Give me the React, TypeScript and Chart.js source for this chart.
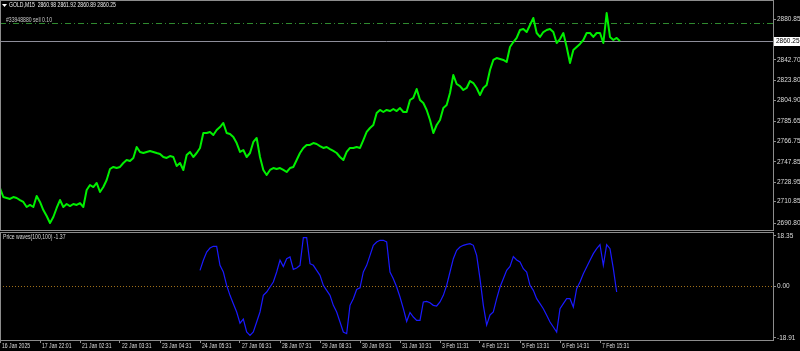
import React, { useEffect, useRef } from 'react';
import { Chart, registerables } from 'chart.js';

Chart.register(...registerables);

const FONT_FAMILY = "'Liberation Sans', Arial, sans-serif";

const headerText = 'GOLD,M15  2860.98 2861.92 2860.89 2860.25';
const orderText = '#33948880 sell 0.10';
const indicatorText = 'Price waves(100,100) -1.37';

const timeLabels = [
  '16 Jan 2025', '17 Jan 22:01', '21 Jan 02:31', '22 Jan 03:31', '23 Jan 04:31',
  '24 Jan 05:31', '27 Jan 06:31', '28 Jan 07:31', '29 Jan 08:31', '30 Jan 09:31',
  '31 Jan 10:31', '3 Feb 11:31', '4 Feb 12:31', '5 Feb 13:31', '6 Feb 14:31', '7 Feb 15:31',
];
const labelStep = 12; // samples between time labels
const xMax = 231.9; // visible samples across the plot

const priceTicks = [2880.85, 2842.7, 2823.8, 2804.9, 2785.65, 2766.75, 2747.85, 2728.95, 2710.85, 2690.8];
const priceMin = 2684.28;
const priceMax = 2897.62;
const currentPrice = 2860.25;
const orderPrice = 2876.9;

const priceValues = [
  2723.4, 2715.0, 2714.1, 2713.2, 2715.0, 2714.1, 2712.2, 2710.4, 2705.7, 2707.6,
  2705.7, 2716.0, 2710.4, 2702.9, 2697.3, 2690.8, 2696.4, 2704.8, 2712.2, 2705.7,
  2708.5, 2706.6, 2708.5, 2707.6, 2709.4, 2705.7, 2721.5, 2726.2, 2724.3, 2728.1,
  2719.7, 2724.3, 2730.9, 2741.1, 2743.0, 2742.0, 2743.0, 2746.7, 2749.5, 2748.6,
  2751.4, 2761.6, 2757.0, 2756.0, 2757.0, 2757.9, 2757.0, 2756.0, 2755.1, 2752.3,
  2751.4, 2753.2, 2752.3, 2743.9, 2746.7, 2740.2, 2754.2, 2757.0, 2752.3, 2756.0,
  2760.7, 2774.6, 2774.6, 2775.6, 2772.8, 2777.4, 2780.2, 2784.0, 2774.6, 2773.7,
  2770.9, 2765.3, 2757.0, 2758.8, 2752.3, 2756.0, 2766.3, 2770.0, 2752.3, 2740.2,
  2735.5, 2740.2, 2742.0, 2741.1, 2742.0, 2740.2, 2738.3, 2742.0, 2743.0, 2749.5,
  2756.0, 2760.7, 2763.5, 2763.5, 2765.3, 2764.4, 2762.5, 2760.7, 2761.6, 2759.7,
  2757.9, 2756.0, 2752.3, 2749.5, 2757.0, 2760.7, 2760.7, 2761.6, 2760.7, 2768.1,
  2775.6, 2779.3, 2782.1, 2793.3, 2796.1, 2794.2, 2796.1, 2795.1, 2797.0, 2795.1,
  2797.9, 2794.2, 2794.2, 2805.4, 2807.3, 2815.6, 2805.4, 2802.6, 2796.1, 2786.8,
  2774.6, 2782.1, 2786.8, 2797.9, 2800.7, 2811.9, 2828.7, 2820.3, 2818.4, 2814.7,
  2816.6, 2823.1, 2821.2, 2816.6, 2810.0, 2816.6, 2819.4, 2833.3, 2842.7, 2844.5,
  2843.6, 2842.7, 2840.8, 2854.8, 2859.4, 2863.2, 2870.6, 2871.5, 2868.7, 2875.3,
  2881.8, 2867.8, 2864.1, 2868.7, 2870.6, 2871.5, 2868.7, 2858.5, 2862.2, 2867.8,
  2854.8, 2839.9, 2852.0, 2854.8, 2857.6, 2861.3, 2867.8, 2867.8, 2864.1, 2867.8,
  2867.8, 2858.5, 2886.4, 2864.1, 2861.3, 2863.2, 2860.25,
];

const waveTicks = [18.35, 0, -18.91];
const waveMin = -19.65;
const waveMax = 19.43;
const waveStart = 60;
const waveValues = [
  5.8, 9.45, 12.49, 13.95, 14.56, 14.56, 7.62, 5.19, 0.32, -3.34,
  -6.38, -9.42, -13.5, -12.0, -16.73, -17.95, -16.73, -13.08, -9.42, -3.34,
  -2.12, -0.29, 1.53, 5.19, 9.5, 7.2, 10.06, 10.67, 6.16, 6.65,
  7.62, 17.73, 17.73, 8.23, 7.62, 5.8, 3.97, 0.32, -1.51, -3.34,
  -6.99, -9.42, -13.08, -16.73, -17.34, -6.99, -4.55, -1.2, -0.6, 5.19,
  7.6, 11.28, 14.93, 16.15, 16.76, 16.76, 16.15, 5.19, 2.75, -0.29,
  -3.95, -8.21, -12.9, -9.6, -11.25, -12.5, -12.47, -5.77, -5.53, -6.02,
  -6.99, -7.23, -5.77, -3.34, 0.32, 5.19, 10.06, 13.1, 14.32, 14.93,
  15.29, 15.54, 14.93, 11.28, 2.75, -6.99, -14.2, -10.5, -9.42, -4.55,
  -0.29, 2.75, 5.8, 7.2, 10.8, 9.6, 8.84, 6.41, 5.19, 0.32,
  -1.51, -4.55, -6.38, -8.21, -10.64, -13.08, -14.9, -16.73, -8.21, -6.38,
  -4.55, -4.55, -7.6, -0.9, 1.53, 4.58, 7.01, 9.45, 11.88, 13.71,
  15.17, 7.62, 15.17, 13.71, 6.41, -2.12,
];

const AXIS_COLOR = '#8c8c8c';
const TEXT_COLOR = '#dcdcdc';
const FONT_SIZE = 6.5;
const TEXT_SIZE = 7;
const TEXT_SQUEEZE = 0.73;

function drawSqueezed(ctx: CanvasRenderingContext2D, text: string, x: number, y: number, color: string) {
  ctx.save();
  ctx.translate(x, y);
  ctx.scale(TEXT_SQUEEZE, 1);
  ctx.font = `${TEXT_SIZE}px ${FONT_FAMILY}`;
  ctx.fillStyle = color;
  ctx.textAlign = 'left';
  ctx.textBaseline = 'middle';
  ctx.fillText(text, 0, 0);
  ctx.restore();
}

export default function App() {
  const mainRef = useRef<HTMLCanvasElement | null>(null);
  const subRef = useRef<HTMLCanvasElement | null>(null);

  useEffect(() => {
    if (!mainRef.current || !subRef.current) return;

    const mainPlugin = {
      id: 'mainDecor',
      beforeDraw(chart: any) {
        const { ctx, width, height } = chart;
        ctx.save();
        ctx.fillStyle = '#000';
        ctx.fillRect(0, 0, width, height);
        ctx.restore();
      },
      beforeDatasetsDraw(chart: any) {
        const { ctx, chartArea: a, scales } = chart;
        const y = scales.y;
        ctx.save();
        const yp = Math.round(y.getPixelForValue(currentPrice)) + 0.5;
        ctx.strokeStyle = '#8e8e9a';
        ctx.lineWidth = 1;
        ctx.beginPath();
        ctx.moveTo(a.left, yp);
        ctx.lineTo(a.right, yp);
        ctx.stroke();
        const yo = Math.round(y.getPixelForValue(orderPrice)) + 0.5;
        ctx.strokeStyle = '#2f8a2f';
        ctx.setLineDash([6, 3, 1, 3]);
        ctx.beginPath();
        ctx.moveTo(a.left, yo);
        ctx.lineTo(a.right, yo);
        ctx.stroke();
        ctx.restore();
      },
      afterDraw(chart: any) {
        const { ctx, chartArea: a, scales } = chart;
        const y = scales.y;
        ctx.save();
        ctx.strokeStyle = AXIS_COLOR;
        ctx.lineWidth = 1;
        ctx.strokeRect(a.left + 0.5, a.top - 0.5, a.right - a.left, a.bottom - a.top + 1);
        // current price label
        const yp = Math.round(y.getPixelForValue(currentPrice));
        ctx.fillStyle = '#ffffff';
        ctx.fillRect(a.right + 1, yp - 4, 26, 9);
        ctx.fillStyle = '#000000';
        ctx.font = `${FONT_SIZE}px ${FONT_FAMILY}`;
        ctx.textBaseline = 'middle';
        ctx.textAlign = 'left';
        ctx.fillText(currentPrice.toFixed(2), a.right + 3, yp + 0.5);
        // header
        ctx.fillStyle = '#ffffff';
        ctx.beginPath();
        ctx.moveTo(2, 4);
        ctx.lineTo(7, 4);
        ctx.lineTo(4.5, 7);
        ctx.closePath();
        ctx.fill();
        ctx.restore();
        drawSqueezed(ctx, headerText, 9, 5.5, '#ececec');
        drawSqueezed(ctx, orderText, 6, 20.5, '#c8c8c8');
      },
    };

    const subPlugin = {
      id: 'subDecor',
      beforeDraw(chart: any) {
        const { ctx, width, height } = chart;
        ctx.save();
        ctx.fillStyle = '#000';
        ctx.fillRect(0, 0, width, height);
        ctx.restore();
      },
      beforeDatasetsDraw(chart: any) {
        const { ctx, chartArea: a, scales } = chart;
        const y0 = Math.round(scales.y.getPixelForValue(0)) + 0.5;
        ctx.save();
        ctx.strokeStyle = '#a0701a';
        ctx.setLineDash([1, 2]);
        ctx.lineWidth = 1;
        ctx.beginPath();
        ctx.moveTo(a.left, y0);
        ctx.lineTo(a.right, y0);
        ctx.stroke();
        ctx.restore();
      },
      afterDraw(chart: any) {
        const { ctx, chartArea: a, scales } = chart;
        ctx.save();
        ctx.strokeStyle = AXIS_COLOR;
        ctx.lineWidth = 1;
        ctx.strokeRect(a.left + 0.5, a.top - 0.5, a.right - a.left, a.bottom - a.top + 1);
        ctx.restore();
        drawSqueezed(ctx, indicatorText, 3, 5.5, '#d8d8d8');
        // time axis labels, placed at the x scale's tick positions
        const xs = scales.x;
        timeLabels.forEach((label, i) => {
          const px = xs.getPixelForValue(i * labelStep);
          drawSqueezed(ctx, label, px + 2, a.bottom + 6.5, TEXT_COLOR);
        });
      },
    };

    const tickFont = { family: FONT_FAMILY, size: FONT_SIZE };

    const mainChart = new Chart(mainRef.current, {
      type: 'line',
      data: {
        datasets: [
          {
            data: priceValues.map((v, i) => ({ x: i, y: v })),
            borderColor: '#00f000',
            borderWidth: 2,
            pointRadius: 0,
            tension: 0,
            borderJoinStyle: 'round',
          },
        ],
      },
      options: {
        responsive: false,
        animation: false,
        events: [],
        layout: { padding: { top: 1, bottom: 1, left: 0, right: 0 } },
        plugins: { legend: { display: false }, tooltip: { enabled: false } },
        scales: {
          x: { type: 'linear', min: 0, max: xMax, display: false },
          y: {
            type: 'linear',
            position: 'right',
            min: priceMin,
            max: priceMax,
            afterBuildTicks: (s: any) => {
              s.ticks = priceTicks.map((v) => ({ value: v }));
            },
            afterFit: (s: any) => {
              s.width = 27;
              s.paddingTop = 0;
              s.paddingBottom = 0;
            },
            grid: { drawOnChartArea: false, drawTicks: true, tickLength: 3, color: AXIS_COLOR },
            border: { display: false },
            ticks: {
              color: TEXT_COLOR,
              font: tickFont,
              padding: 1,
              autoSkip: false,
              callback: (v: any) => Number(v).toFixed(2),
            },
          },
        },
      },
      plugins: [mainPlugin],
    } as any);

    const subChart = new Chart(subRef.current, {
      type: 'line',
      data: {
        datasets: [
          {
            data: waveValues.map((v, i) => ({ x: waveStart + i, y: v })),
            borderColor: '#1a1aff',
            borderWidth: 1.2,
            pointRadius: 0,
            tension: 0,
          },
        ],
      },
      options: {
        responsive: false,
        animation: false,
        events: [],
        layout: { padding: { top: 1, bottom: 0, left: 0, right: 0 } },
        plugins: { legend: { display: false }, tooltip: { enabled: false } },
        scales: {
          x: {
            type: 'linear',
            position: 'bottom',
            min: 0,
            max: xMax,
            afterBuildTicks: (s: any) => {
              s.ticks = timeLabels.map((_, i) => ({ value: i * labelStep }));
            },
            afterFit: (s: any) => {
              s.height = 11;
              s.paddingLeft = 0;
              s.paddingRight = 0;
            },
            grid: { drawOnChartArea: false, drawTicks: true, tickLength: 3, color: AXIS_COLOR },
            border: { display: false },
            ticks: { display: false, autoSkip: false, maxRotation: 0, minRotation: 0 },
          },
          y: {
            type: 'linear',
            position: 'right',
            min: waveMin,
            max: waveMax,
            afterBuildTicks: (s: any) => {
              s.ticks = waveTicks.map((v) => ({ value: v }));
            },
            afterFit: (s: any) => {
              s.width = 27;
              s.paddingTop = 0;
              s.paddingBottom = 0;
            },
            grid: { drawOnChartArea: false, drawTicks: true, tickLength: 3, color: AXIS_COLOR },
            border: { display: false },
            ticks: {
              color: TEXT_COLOR,
              font: tickFont,
              padding: 1,
              autoSkip: false,
              callback: (v: any) => Number(v).toFixed(2),
            },
          },
        },
      },
      plugins: [subPlugin],
    } as any);

    return () => {
      mainChart.destroy();
      subChart.destroy();
    };
  }, []);

  return (
    <div
      style={{
        position: 'fixed',
        left: 0,
        top: 0,
        width: 800,
        height: 351,
        background: '#000',
        overflow: 'hidden',
      }}
    >
      <canvas
        ref={mainRef}
        width={800}
        height={231}
        style={{ position: 'absolute', left: 0, top: 0, width: 800, height: 231, display: 'block' }}
      />
      <canvas
        ref={subRef}
        width={800}
        height={119}
        style={{ position: 'absolute', left: 0, top: 232, width: 800, height: 119, display: 'block' }}
      />
    </div>
  );
}
